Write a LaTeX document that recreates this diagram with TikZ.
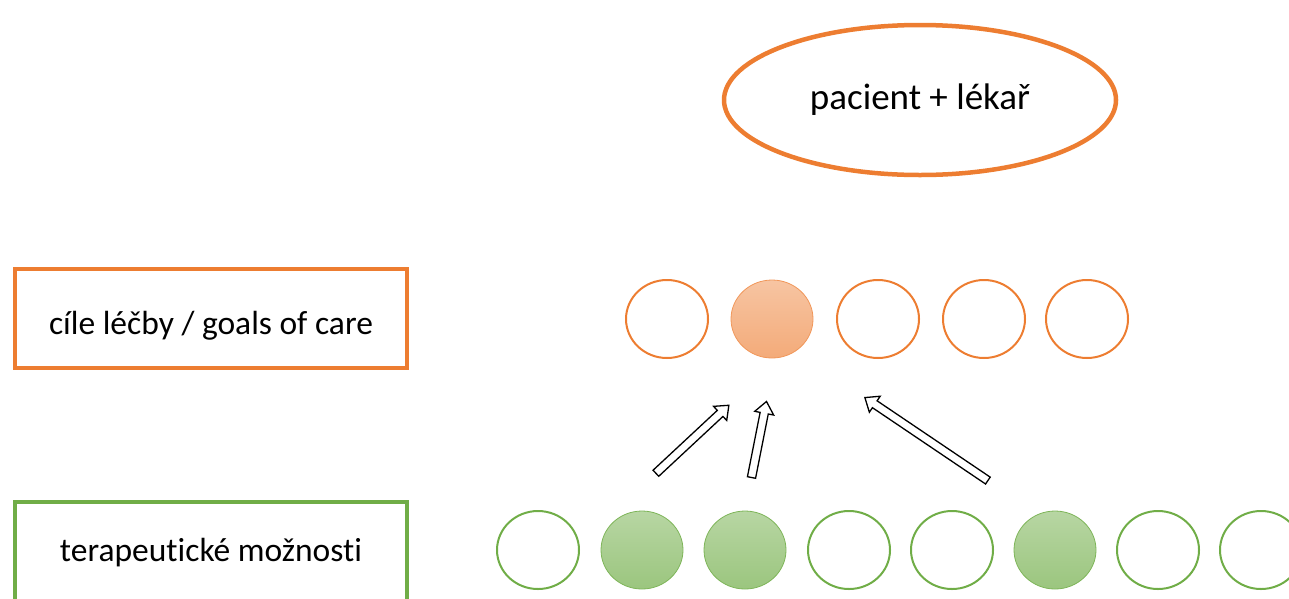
\documentclass[tikz,border=0pt]{standalone}
\usepackage{fontspec}
\setmainfont{Carlito}[Ligatures=CommonOff]
\usetikzlibrary{shapes.geometric,shapes.arrows,calc}

\definecolor{oforange}{HTML}{ED7D31}
\definecolor{ofgreen}{HTML}{70AD47}

\newcommand{\blockarrow}[2]{%
  \path let \p1=($(#2)-(#1)$), \n1={atan2(\y1,\x1)}, \n2={veclen(\x1,\y1)} in
    node[blockarr, minimum height=\n2, rotate=\n1] at ($(#1)!0.5!(#2)$) {};}

\begin{document}
\begin{tikzpicture}[x=1pt, y=-1pt, every node/.style={font=\fontsize{33.5}{40}\selectfont},
  labelbox/.style={draw, line width=4pt, minimum width=392pt, minimum height=99pt, inner sep=0pt, text depth=5pt},
  option/.style={ellipse, draw, line width=2pt, minimum width=82pt, minimum height=78pt, inner sep=0pt},
  orangefill/.style={option, line width=0.8pt, draw=oforange!80, top color=oforange!45!white, bottom color=oforange!65!white},
  greenfill/.style={option, line width=0.8pt, draw=ofgreen!90, top color=ofgreen!50!white, bottom color=ofgreen!70!white},
  blockarr/.style={single arrow, draw, fill=white, line width=1.3pt, inner sep=3.5pt,
    single arrow head extend=5.5pt, single arrow tip angle=78}]
	\useasboundingbox (0,0) rectangle (1289,598);
	\clip (0,0) rectangle (1289,598);
	% who decides
	\node[ellipse, draw=oforange, line width=4.5pt, minimum width=392pt, minimum height=150pt, inner sep=0pt,
	  text height=24pt, text depth=5pt, font=\fontsize{37}{44}\selectfont] (pl) at (920,100) {pacient + lékař};
	% row labels
	\node[labelbox, draw=oforange, text height=36pt] (cile) at (211,318.5) {cíle léčby / goals of care};
	\node[labelbox, draw=ofgreen, text height=24pt] (moznosti) at (211,551.5) {terapeutické možnosti};
	% goals of care
	\node[option, draw=oforange] (g1) at (667,319) {};
	\node[orangefill] (g2) at (772,319) {};
	\node[option, draw=oforange] (g3) at (878,319) {};
	\node[option, draw=oforange] (g4) at (984,319) {};
	\node[option, draw=oforange] (g5) at (1087,319) {};
	% therapeutic options
	\node[option, draw=ofgreen] (t1) at (538,550) {};
	\node[greenfill] (t2) at (642,550) {};
	\node[greenfill] (t3) at (745,550) {};
	\node[option, draw=ofgreen] (t4) at (849,550) {};
	\node[option, draw=ofgreen] (t5) at (952,550) {};
	\node[greenfill] (t6) at (1055,550) {};
	\node[option, draw=ofgreen] (t7) at (1158,550) {};
	\node[option, draw=ofgreen] (t8) at (1261,550) {};
	% arrows towards the chosen goal
	\coordinate (a1) at (654,475);
	\coordinate (b1) at (727,407);
	\coordinate (a2) at (751,480);
	\coordinate (b2) at (766,404);
	\coordinate (a3) at (990,482);
	\coordinate (b3) at (867,399);
	\blockarrow{a1}{b1}
	\blockarrow{a2}{b2}
	\blockarrow{a3}{b3}
\end{tikzpicture}
\end{document}
